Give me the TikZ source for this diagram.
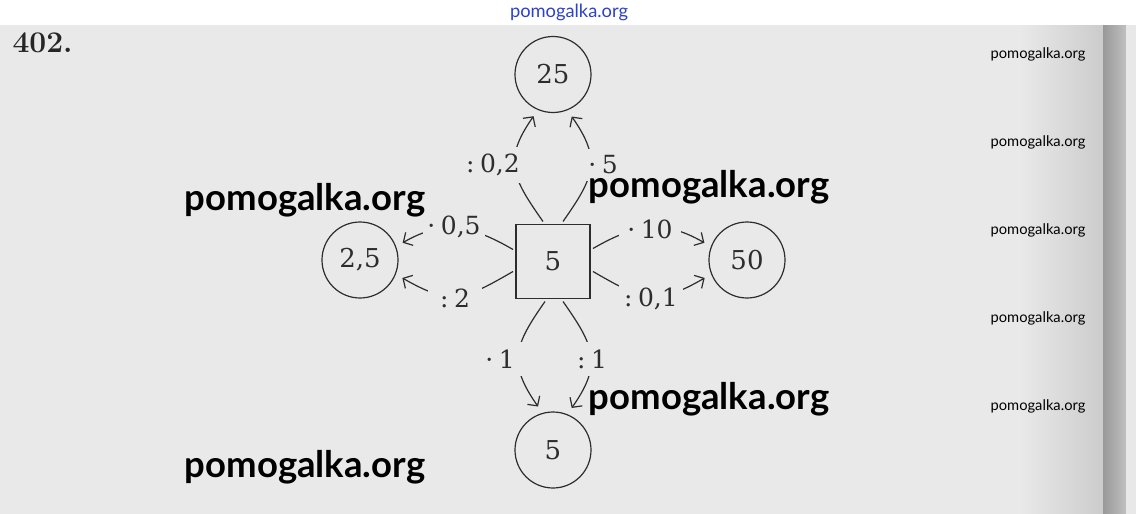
\documentclass[tikz,border=0pt]{standalone}
\usepackage{fontspec}
\newfontfamily\lato{Lato}
\newfontfamily\numfont{DejaVu Serif}
\usetikzlibrary{arrows.meta}
\definecolor{pagebg}{RGB}{233,233,233}
\definecolor{ink}{RGB}{45,45,45}
\definecolor{wmblue}{RGB}{45,65,205}
\newcommand{\csp}{\hspace{0.22em}}
\begin{document}
\begin{tikzpicture}[x=1pt,y=1pt,
  circ/.style={draw=ink, line width=1.2pt, circle, minimum size=76pt, inner sep=0pt, outer sep=8pt, font=\numfont\fontsize{26}{28}\selectfont, text=ink},
  sqbox/.style={draw=ink, line width=1.2pt, minimum size=74pt, inner sep=0pt, outer sep=3pt, font=\numfont\fontsize{26}{28}\selectfont, text=ink},
  conn/.style={draw=ink, line width=1.2pt, -{Straight Barb[length=7pt,width=15pt]}},
  lbl/.style={fill=pagebg, inner xsep=3pt, inner ysep=6pt, font=\numfont\fontsize{25}{28}\selectfont, text=ink},
  wm/.style={font=\lato\bfseries\fontsize{36.5}{40}\selectfont, text=black},
  wms/.style={font=\lato\fontsize{14.7}{17}\selectfont, text=black}]
\useasboundingbox (0,0) rectangle (1136,-514);
% background
\fill[white] (0,0) rectangle (1136,-25);
\fill[pagebg] (0,-25) rectangle (1103,-514);
\shade[left color=pagebg, right color=gray!40] (1020,-25) rectangle (1103,-514);
\shade[left color=gray!80, right color=gray!50] (1103,-25) rectangle (1126,-514);
\fill[gray!18] (1126,-25) rectangle (1136,-514);
% title
\node[anchor=base west, font=\bfseries\fontsize{30}{34}\selectfont, text=black!85] (num) at (9,-52) {402.};
% nodes
\node[sqbox] (s) at (553,-261.5) {5};
\node[circ] (c25) at (553,-74.5) {25};
\node[circ] (c25l) at (360,-260) {2,5};
\node[circ] (c50) at (747,-260) {50};
\node[circ] (c5) at (553,-450) {5};
% connectors
\draw[conn] ([xshift=-10pt]s.north) to[out=125,in=235,looseness=1.3] (c25.245);
\draw[conn] ([xshift=10pt]s.north) to[out=55,in=-55,looseness=1.3] (c25.294);
\draw[conn] ([yshift=12pt]s.west) to[out=150,in=30,looseness=1.1] (c25l.22);
\draw[conn] ([yshift=-10pt]s.west) to[out=210,in=-30,looseness=1.3] (c25l.337);
\draw[conn] ([yshift=13pt]s.east) to[out=30,in=150,looseness=1.1] (c50.158);
\draw[conn] ([yshift=-10pt]s.east) to[out=-30,in=210,looseness=1.3] (c50.203);
\draw[conn] ([xshift=-8pt]s.south) to[out=235,in=125,looseness=1.3] (c5.109);
\draw[conn] ([xshift=10pt]s.south) to[out=-55,in=55,looseness=1.3] (c5.66);
% labels
\node[lbl, inner ysep=7pt] (l1) at (493,-165) {:\csp0,2};
\node[lbl, inner ysep=7pt] (l2) at (603,-165) {·\csp5};
\node[lbl, inner xsep=4pt] (l3) at (454,-227) {·\csp0,5};
\node[lbl, inner xsep=12pt] (l4) at (455,-298) {:\csp2};
\node[lbl, inner xsep=8pt] (l5) at (650,-229) {·\csp10};
\node[lbl, inner xsep=5pt] (l6) at (651,-299) {:\csp0,1};
\node[lbl, inner xsep=7pt, inner ysep=8pt] (l7) at (500,-359) {·\csp1};
\node[lbl, inner ysep=8pt] (l8) at (592,-359) {:\csp1};
% watermarks
\node[font=\lato\fontsize{18.3}{20}\selectfont, text=wmblue] (w0) at (569,-12) {pomogalka.org};
\node[wm] (w1) at (305,-200) {pomogalka.org};
\node[wm] (w2) at (709,-187) {pomogalka.org};
\node[wm] (w3) at (709,-399) {pomogalka.org};
\node[wm] (w4) at (305,-467) {pomogalka.org};
\node[wms] (w5) at (1038,-54) {pomogalka.org};
\node[wms] (w6) at (1038,-142) {pomogalka.org};
\node[wms] (w7) at (1038,-230) {pomogalka.org};
\node[wms] (w8) at (1038,-318) {pomogalka.org};
\node[wms] (w9) at (1038,-406) {pomogalka.org};
\end{tikzpicture}
\end{document}
